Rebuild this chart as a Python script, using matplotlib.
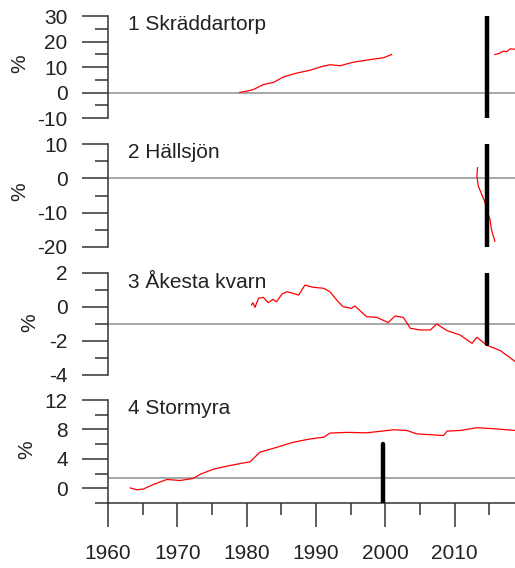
import numpy as np
import matplotlib.pyplot as plt
from matplotlib.ticker import MultipleLocator

plt.rcParams['font.family'] = ['Liberation Sans', 'DejaVu Sans']
plt.rcParams['axes.unicode_minus'] = False

# 1 Skräddartorp (two segments)
skr_year_a = [1979.0, 1980.0, 1981.0, 1982.4, 1983.9, 1985.3, 1987.2, 1989.1, 1990.6,
              1992.0, 1993.5, 1995.4, 1997.8, 1999.7, 2000.9]
skr_val_a = [0.0, 0.5, 1.2, 3.1, 4.0, 6.1, 7.6, 8.7, 10.0, 10.9, 10.5, 11.9, 12.9, 13.6, 14.9]
skr_year_b = [2015.8, 2016.4, 2017.0, 2017.5, 2018.0, 2018.7]
skr_val_b = [14.9, 15.3, 16.2, 16.0, 17.1, 17.0]

# 2 Hällsjön
hal_year = [2013.3, 2013.2, 2013.4, 2013.9, 2014.3, 2014.7, 2015.1, 2015.3, 2015.8]
hal_val = [3.1, 0.7, -2.2, -4.7, -6.6, -9.5, -12.0, -14.9, -18.3]

# 3 Åkesta kvarn
ake_year = [1980.7, 1980.9, 1981.2, 1981.7, 1982.4, 1983.1, 1983.8, 1984.3, 1985.1, 1985.8,
            1986.7, 1987.5, 1988.4, 1989.6, 1991.1, 1992.0, 1993.2, 1993.9, 1995.1, 1995.6,
            1997.3, 1998.8, 2000.4, 2001.4, 2002.6, 2003.6, 2005.0, 2006.5, 2007.4, 2008.9,
            2010.8, 2012.5, 2013.2, 2014.6, 2016.6, 2018.7]
ake_val = [0.12, 0.25, -0.02, 0.51, 0.57, 0.25, 0.45, 0.31, 0.76, 0.9,
           0.8, 0.7, 1.29, 1.16, 1.1, 0.9, 0.31, 0.02, -0.08, 0.06,
           -0.57, -0.61, -0.92, -0.53, -0.61, -1.25, -1.35, -1.35, -1.0, -1.39,
           -1.65, -2.14, -1.78, -2.24, -2.57, -3.2]

# 4 Stormyra
sto_year = [1963.2, 1964.1, 1965.1, 1966.5, 1968.5, 1970.4, 1972.3, 1973.3, 1975.2, 1977.1,
            1979.0, 1980.5, 1981.9, 1984.3, 1986.7, 1989.1, 1991.1, 1992.0, 1994.4, 1997.3,
            2001.2, 2003.1, 2004.5, 2008.4, 2008.9, 2010.8, 2013.2, 2015.6, 2017.5, 2018.7]
sto_val = [0.05, -0.2, -0.1, 0.5, 1.2, 1.06, 1.34, 1.9, 2.6, 3.0,
           3.35, 3.6, 4.9, 5.56, 6.25, 6.7, 6.94, 7.5, 7.6, 7.54,
           7.95, 7.86, 7.4, 7.17, 7.77, 7.86, 8.23, 8.1, 7.95, 7.86]

titles = ['1 Skräddartorp', '2 Hällsjön', '3 Åkesta kvarn', '4 Stormyra']
ylims = [(-10, 30), (-20, 10), (-4, 2), (-2, 12)]
major = [10, 10, 2, 4]
ref_level = [0, 0, -1, 1.4]
bar_year = [2014.6, 2014.6, 2014.6, 1999.7]
bar_span = [(-10, 30), (-20, 10), (-2.2, 2), (-2, 6)]
series = [[(skr_year_a, skr_val_a), (skr_year_b, skr_val_b)],
          [(hal_year, hal_val)],
          [(ake_year, ake_val)],
          [(sto_year, sto_val)]]

# panel boxes in pixels (top, bottom)
W, H = 515, 568
boxes = [(16, 118), (144, 247), (273, 375), (400, 503)]
label_pos = [(20, 64), (20, 192), (30, 323), (27, 450)]
tick_col = '#333333'
fs = 15

fig = plt.figure(figsize=(W / 100, H / 100), dpi=100)

for i in range(4):
    top, bot = boxes[i]
    ax = fig.add_axes([108 / W, 1 - bot / H, 407 / W, (bot - top) / H])
    ax.set_xlim(1960, 2018.7)
    ax.set_ylim(*ylims[i])
    for s in ['top', 'right']:
        ax.spines[s].set_visible(False)
    ax.spines['left'].set_color(tick_col)
    ax.spines['left'].set_linewidth(1.1)
    ax.yaxis.set_major_locator(MultipleLocator(major[i]))
    ax.yaxis.set_minor_locator(MultipleLocator(major[i] / 2))
    ax.tick_params(axis='y', which='major', length=19, width=1.1, color=tick_col,
                   labelsize=fs, pad=10, labelcolor='#222222')
    ax.tick_params(axis='y', which='minor', length=9.5, width=1.1, color=tick_col)

    if i < 3:
        ax.spines['bottom'].set_visible(False)
        ax.tick_params(axis='x', which='both', bottom=False, labelbottom=False)
    else:
        ax.spines['bottom'].set_color(tick_col)
        ax.spines['bottom'].set_linewidth(1.1)
        ax.xaxis.set_major_locator(MultipleLocator(10))
        ax.xaxis.set_minor_locator(MultipleLocator(5))
        ax.tick_params(axis='x', which='major', length=17.5, width=1.1, color=tick_col,
                       labelsize=fs, pad=12, labelcolor='#222222')
        ax.tick_params(axis='x', which='minor', length=8.5, width=1.1, color=tick_col)

    ax.axhline(ref_level[i], color='#a0a0a0', lw=1.3, zorder=1)
    for yrs, vals in series[i]:
        ax.plot(yrs, vals, color='red', lw=0.9, zorder=2)
    ax.plot([bar_year[i], bar_year[i]], bar_span[i], color='black', lw=3.2,
            solid_capstyle='round', zorder=3)
    ax.text(20 / 407, 1 - 9 / (bot - top), titles[i], transform=ax.transAxes,
            fontsize=fs, color='#222222', va='center', ha='left')

    lx, ly = label_pos[i]
    fig.text(lx / W, 1 - ly / H, '%', rotation=90, fontsize=fs, color='#222222',
             ha='center', va='center')

fig.savefig('out.png', dpi=100)
